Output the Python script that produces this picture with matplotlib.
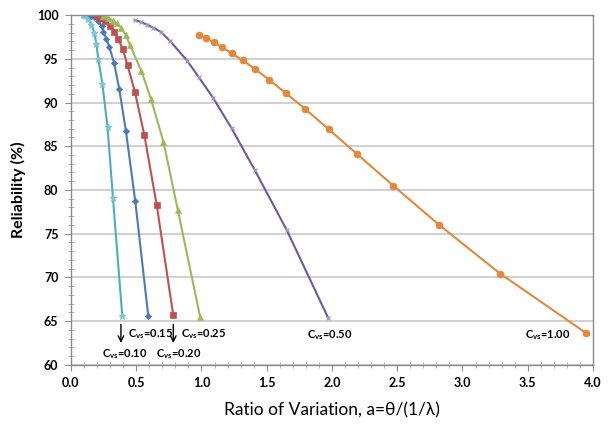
import matplotlib.pyplot as plt
from matplotlib.ticker import MultipleLocator

# reliability curves for each coefficient of variation
cvs_labels = ['0.10', '0.15', '0.20', '0.25', '0.50', '1.00']

x_010 = [0.092, 0.111, 0.134, 0.157, 0.179, 0.195, 0.209, 0.241, 0.280, 0.322, 0.393]
y_010 = [100.0, 99.83, 99.49, 98.86, 97.94, 96.69, 94.97, 92.11, 87.20, 79.03, 65.63]

x_015 = [0.153, 0.180, 0.209, 0.234, 0.249, 0.272, 0.293, 0.330, 0.370, 0.421, 0.493, 0.592]
y_015 = [99.94, 99.77, 99.31, 98.74, 98.06, 97.26, 96.38, 94.55, 91.54, 86.74, 78.69, 65.63]

x_020 = [0.197, 0.226, 0.264, 0.299, 0.332, 0.362, 0.396, 0.434, 0.490, 0.562, 0.657, 0.784]
y_020 = [99.89, 99.71, 99.26, 98.74, 98.09, 97.22, 96.17, 94.23, 91.20, 86.29, 78.29, 65.66]

x_025 = [0.245, 0.287, 0.322, 0.352, 0.383, 0.421, 0.452, 0.540, 0.613, 0.709, 0.818, 0.989]
y_025 = [99.89, 99.66, 99.37, 99.03, 98.51, 97.71, 96.57, 93.60, 90.40, 85.49, 77.77, 65.54]

x_050 = [0.490, 0.536, 0.582, 0.628, 0.690, 0.759, 0.889, 0.981, 1.090, 1.231, 1.410, 1.653, 1.972]
y_050 = [99.43, 99.20, 98.91, 98.57, 98.06, 97.03, 94.80, 92.86, 90.51, 87.05, 82.23, 75.43, 65.34]

x_100 = [0.983, 1.037, 1.093, 1.159, 1.231, 1.316, 1.410, 1.517, 1.645, 1.795, 1.975, 2.194,
         2.470, 2.822, 3.290, 3.946]
y_100 = [97.71, 97.34, 96.88, 96.31, 95.62, 94.82, 93.83, 92.61, 91.09, 89.26, 86.94, 84.08,
         80.49, 76.00, 70.43, 63.66]

plt.rcParams['font.family'] = ['Lato', 'DejaVu Sans']
plt.rcParams['mathtext.fontset'] = 'custom'
plt.rcParams['mathtext.rm'] = 'Lato'
plt.rcParams['mathtext.bf'] = 'Lato:bold'

fig = plt.figure(figsize=(6.15, 4.3), dpi=100)
ax = fig.add_axes([0.1154, 0.1512, 0.8488, 0.8139])

# x, y, line colour, marker, marker size, marker colour
series = [
    (x_010, y_010, '#4bacc6', '*', 4.5, '#7cc4d8'),
    (x_015, y_015, '#4a7ab8', 'D', 3.2, '#4a7ab8'),
    (x_020, y_020, '#c0504d', 's', 5, '#c0504d'),
    (x_025, y_025, '#9bbb59', '^', 5, '#9bbb59'),
    (x_050, y_050, '#6b5a9e', 'x', 3.5, '#a597c8'),
    (x_100, y_100, '#e4883c', 'o', 5, '#e4883c'),
]
for xs, ys, col, mk, ms, mcol in series:
    ax.plot(xs, ys, color=col, lw=1.5, marker=mk, ms=ms, mfc=mcol, mec=mcol,
            mew=0.9 if mk in 'x*' else 0.5)

ax.set_xlim(0, 4)
ax.set_ylim(60, 100)
ax.xaxis.set_major_locator(MultipleLocator(0.5))
ax.xaxis.set_minor_locator(MultipleLocator(0.1))
ax.yaxis.set_major_locator(MultipleLocator(5))
ax.yaxis.set_minor_locator(MultipleLocator(1))
ax.xaxis.set_major_formatter(plt.FormatStrFormatter('%.1f'))
ax.yaxis.set_major_formatter(plt.FormatStrFormatter('%d'))

ax.grid(axis='y', which='major', color='#c8c8c8', lw=1.2)
ax.set_axisbelow(True)
for s in ax.spines.values():
    s.set_color('#8a8a8a')
    s.set_linewidth(1.0)
ax.tick_params(which='major', direction='out', length=4, color='#8a8a8a', pad=5)
ax.tick_params(which='minor', direction='inout', length=5, color='#a0a0a0')
for lab in ax.get_xticklabels() + ax.get_yticklabels():
    lab.set_fontweight('bold')
    lab.set_fontsize(9)

ax.set_ylabel('Reliability (%)', fontsize=11.5, fontweight='bold', labelpad=8)
ax.set_xlabel('Ratio of Variation, a=θ/(1/λ)', fontsize=12.5, labelpad=9)

# curve labels at the lower end of each line
def cvs_text(x, y, val):
    ax.text(x, y, r'$\mathbf{C}_{\mathbf{vs}}$' + '=' + val, fontsize=8,
            fontweight='bold', ha='left', va='center')

cvs_text(0.238, 61.3, cvs_labels[0])
cvs_text(0.437, 63.5, cvs_labels[1])
cvs_text(0.651, 61.3, cvs_labels[2])
cvs_text(0.843, 63.5, cvs_labels[3])
cvs_text(1.808, 63.4, cvs_labels[4])
cvs_text(3.479, 63.4, cvs_labels[5])

for xa in (0.383, 0.784):
    ax.annotate('', xy=(xa, 62.2), xytext=(xa, 64.95),
                arrowprops=dict(arrowstyle='->', color='black', lw=1.0))

fig.savefig('out.png', dpi=100, facecolor='white')
